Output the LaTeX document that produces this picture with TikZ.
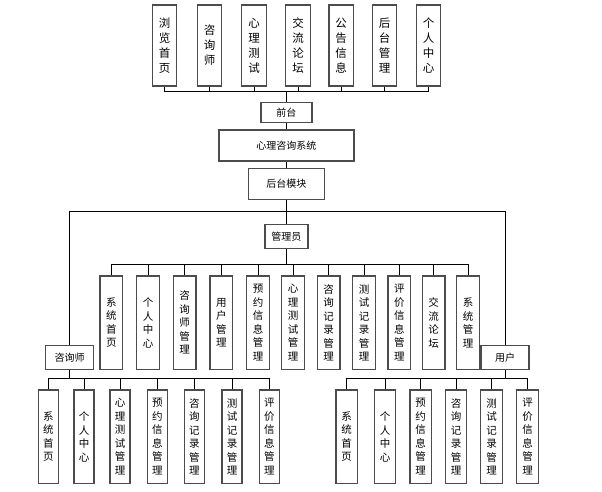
\documentclass[tikz,border=0pt]{standalone}
\usepackage{fontspec}
\newfontfamily\cjk{Noto Sans CJK SC}

\begin{document}
\begin{tikzpicture}[
  x=1pt, y=-1pt, % Pixelkoordinaten
  font=\cjk\fontsize{10}{12}\selectfont,
  kasten/.style={draw=black!70, line width=1.2pt, inner sep=0pt, align=center},
  oben/.style={kasten, minimum width=24.5pt, minimum height=81pt,
    font=\cjk\fontsize{11.5}{15}\selectfont},
  mitte/.style={kasten, minimum height=93.3pt,
    font=\cjk\fontsize{10.5}{13.5}\selectfont},
  linie/.style={draw=black, line width=1pt}
  ]
\useasboundingbox (0,0) rectangle (602,491);
% obere Reihe
\foreach \x/\t [count=\i] in {164.5/{浏\\览\\首\\页}, 209.5/{咨\\询\\师},
  254/{心\\理\\测\\试}, 298/{交\\流\\论\\坛}, 341.2/{公\\告\\信\\息},
  384.5/{后\\台\\管\\理}, 428.5/{个\\人\\中\\心}}
  \node[oben] (t\i) at (\x,45.5) {\t};
\node[kasten, minimum width=51pt, minimum height=20pt] (qt) at (286.4,112.7) {前台};
\coordinate (b1) at (286.4,91.7);
\foreach \i in {1,...,7} \draw[linie] (t\i.south) |- (b1);
\draw[linie] (b1) -- (qt);
% System und Backend
\node[kasten, minimum width=135pt, minimum height=31pt] (xt) at (286.4,145.5) {心理咨询系统};
\node[kasten, minimum width=76pt, minimum height=31pt] (hm) at (286.4,183.8) {后台模块};
\draw[linie] (qt) -- (xt);
\draw[linie] (xt) -- (hm);
% Rollen
\node[kasten, minimum width=43pt, minimum height=24pt] (gly) at (286.4,236.3) {管理员};
\node[kasten, minimum width=47.6pt, minimum height=23.6pt] (zxs) at (69.5,357.5) {咨询师};
\node[kasten, minimum width=48pt, minimum height=23.6pt] (yh) at (505,357.5) {用户};
\coordinate (b2) at (286.4,211.7);
\draw[linie] (hm) -- (gly);
\draw[linie] (b2) -| (zxs);
\draw[linie] (b2) -| (yh);
% Administrator
\coordinate (b3) at (286.4,264);
\draw[linie] (gly) -- (b3);
\foreach \x/\t [count=\i] in {111.3/{系\\统\\首\\页}, 148/{个\\人\\中\\心},
  184.7/{咨\\询\\师\\管\\理}, 221.3/{用\\户\\管\\理}, 258/{预\\约\\信\\息\\管\\理},
  293.2/{心\\理\\测\\试\\管\\理}, 328.7/{咨\\询\\记\\录\\管\\理},
  364/{测\\试\\记\\录\\管\\理}, 399.3/{评\\价\\信\\息\\管\\理},
  433.7/{交\\流\\论\\坛}, 468/{系\\统\\管\\理}}{
  \node[mitte, minimum width=22.7pt] (a\i) at (\x,322.7) {\t};
  \draw[linie] (a\i.north) |- (b3);
}
% Berater
\coordinate (b4) at (69.5,378);
\draw[linie] (zxs) -- (b4);
\foreach \x/\t [count=\i] in {48.3/{系\\统\\首\\页}, 84/{个\\人\\中\\心},
  120/{心\\理\\测\\试\\管\\理}, 157.3/{预\\约\\信\\息\\管\\理},
  194.3/{咨\\询\\记\\录\\管\\理}, 232/{测\\试\\记\\录\\管\\理},
  269.3/{评\\价\\信\\息\\管\\理}}{
  \node[mitte, minimum width=20pt] (z\i) at (\x,436.7) {\t};
  \draw[linie] (z\i.north) |- (b4);
}
% Benutzer
\coordinate (b5) at (505,378);
\draw[linie] (yh) -- (b5);
\foreach \x/\t [count=\i] in {346.7/{系\\统\\首\\页}, 385/{个\\人\\中\\心},
  420.7/{预\\约\\信\\息\\管\\理}, 456/{咨\\询\\记\\录\\管\\理},
  491.5/{测\\试\\记\\录\\管\\理}, 527.5/{评\\价\\信\\息\\管\\理}}{
  \node[mitte, minimum width=21.3pt] (u\i) at (\x,436.7) {\t};
  \draw[linie] (u\i.north) |- (b5);
}
\end{tikzpicture}
\end{document}
